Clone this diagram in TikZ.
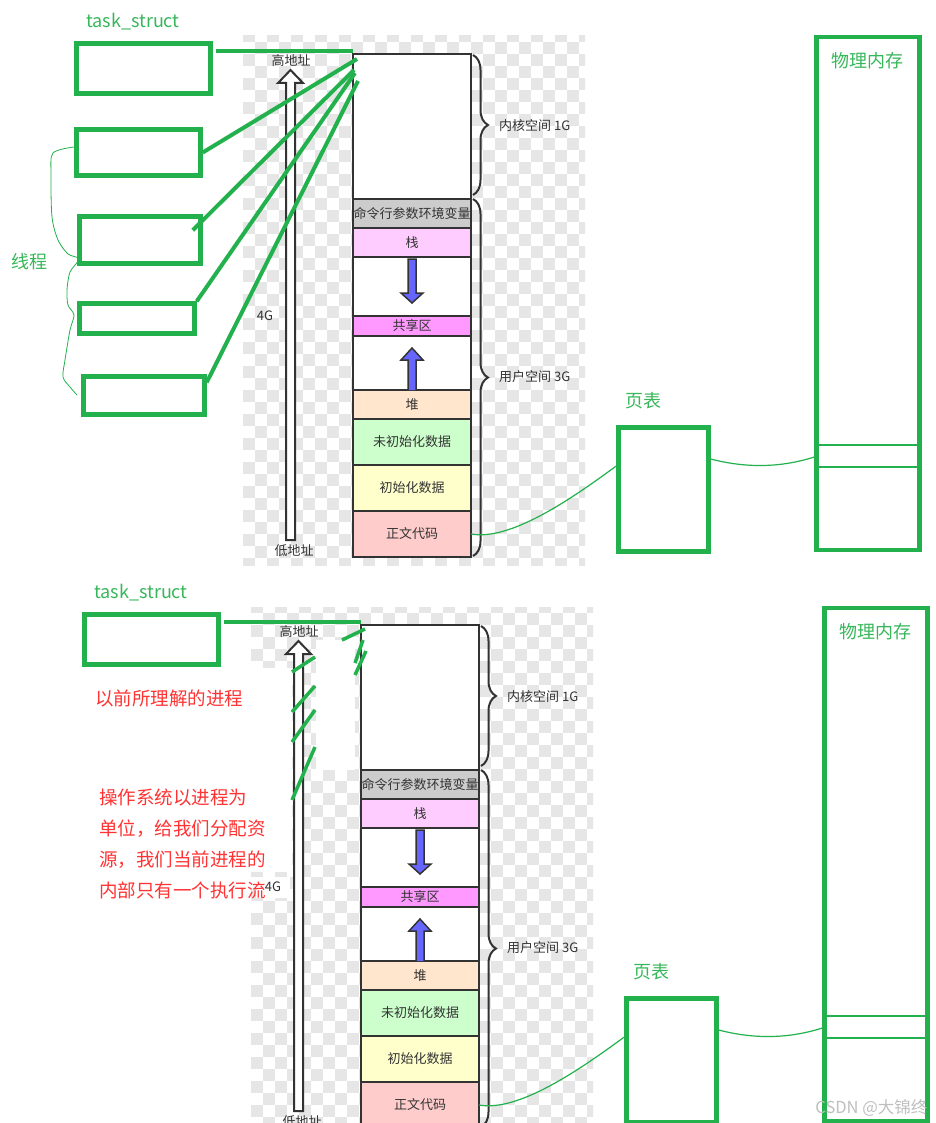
\documentclass[tikz,border=0pt]{standalone}
\usepackage{fontspec}
\usepackage{tikz}
\usetikzlibrary{positioning,calc,backgrounds,decorations.pathreplacing}
\newfontfamily\cjk{Noto Sans CJK SC}
\definecolor{pen}{RGB}{34,177,76}
\definecolor{penlt}{RGB}{55,183,90}
\definecolor{ink}{RGB}{51,51,51}
\definecolor{note}{RGB}{255,51,51}
\definecolor{chk}{RGB}{230,230,230}
\definecolor{argc}{RGB}{204,204,204}
\definecolor{stk}{RGB}{255,204,255}
\definecolor{shmc}{RGB}{255,153,255}
\definecolor{hpc}{RGB}{255,230,204}
\definecolor{bssc}{RGB}{204,255,204}
\definecolor{datc}{RGB}{255,255,204}
\definecolor{txtc}{RGB}{255,204,204}
\definecolor{blu}{RGB}{102,102,255}

\begin{document}
\begin{tikzpicture}[x=1pt,y=-1pt,
  node distance=0pt,
  seg/.style={draw=ink,line width=2pt,minimum width=118pt,inner sep=0pt,outer sep=0pt,
              font=\cjk\fontsize{13}{15}\selectfont,text=ink},
  tbox/.style={draw=pen,line width=4.5pt,inner sep=0pt},
  glab/.style={font=\cjk\fontsize{18}{20}\selectfont,text=penlt},
  lab/.style={font=\cjk\fontsize{13}{15}\selectfont,text=ink,inner sep=0pt},
  remark/.style={font=\cjk\fontsize{18.5}{31}\selectfont,text=note,align=left,inner sep=0pt},
  link/.style={draw=pen,line width=4pt},
  wire/.style={draw=pen,line width=1.2pt},
  brc/.style={draw=ink,line width=2pt,decorate,decoration={brace,amplitude=15pt}},
  flow/.style={fill=blu,draw=ink,line width=1.5pt}
]
\useasboundingbox (0,0) rectangle (935,1123);
\begin{pgfonlayer}{background}
  \fill[white] (0,0) rectangle (935,1123);
\end{pgfonlayer}

% same layout twice: top with threads, bottom the old process
\foreach \p/\dx/\dy in {t/0/0,b/8/571}{
\begin{scope}[shift={(\dx,\dy)},name prefix=\p-]
  \begin{pgfonlayer}{background}
    \begin{scope}
      \clip (243,36) rectangle (585,565);
      \foreach \i in {0,2,...,28} \foreach \j in {0,2,...,44}{
        \fill[chk] (243+12*\i,30+12*\j) rectangle ++(12,12);
        \fill[chk] (255+12*\i,42+12*\j) rectangle ++(12,12);
      }
    \end{scope}
  \end{pgfonlayer}

  \node[seg,fill=white,minimum height=145pt] (kern) at (412,126.5) {};
  \node[seg,fill=argc,minimum height=29pt,below=of kern] (argv) {命令行参数环境变量};
  \node[seg,fill=stk,minimum height=29pt,below=of argv] (stack) {栈};
  \node[seg,fill=white,minimum height=59pt,below=of stack] (gapa) {};
  \node[seg,fill=shmc,minimum height=20pt,below=of gapa] (shm) {共享区};
  \node[seg,fill=white,minimum height=54pt,below=of shm] (gapb) {};
  \node[seg,fill=hpc,minimum height=29pt,below=of gapb] (heap) {堆};
  \node[seg,fill=bssc,minimum height=46pt,below=of heap] (bss) {未初始化数据};
  \node[seg,fill=datc,minimum height=46pt,below=of bss] (data) {初始化数据};
  \node[seg,fill=txtc,minimum height=46pt,below=of data] (code) {正文代码};

  \draw[flow] (408,259)--(416,259)--(416,293)--(423,293)--(412,303)--(401,293)--(408,293)--cycle;
  \draw[flow] (408,390)--(408,360)--(401,360)--(412,348)--(423,360)--(416,360)--(416,390);

  \draw[ink,line width=2pt,fill=white] (286,540)--(286,83)--(278,83)--(290.5,70)--(303,83)--(295,83)--(295,540)--cycle;
  \node[lab] (hi) at (291,61) {高地址};
  \node[lab] (lo) at (294,551) {低地址};
  \node[lab] (four) at (265,316) {4G};

  \draw[brc] (473,55) -- (473,195);
  \draw[brc] (473,199) -- (473,556);
  \node[lab,anchor=west] (kspace) at (499,126) {内核空间 1G};
  \node[lab,anchor=west] (uspace) at (499,377) {用户空间 3G};

  \node[tbox,minimum width=134pt,minimum height=50pt] (ts) at (143.5,68.5) {};
  \node[glab] (tslab) at (133,22) {task\_struct};
  \coordinate (k1) at (353,51);
  \draw[link] ([xshift=3pt]ts.east |- k1) -- (k1);

  \node[tbox,minimum width=90pt,minimum height=124pt] (pt) at (663.5,489.5) {};
  \node[glab] (ptlab) at (643,401) {页表};
  \node[tbox,minimum width=103pt,minimum height=513pt] (pm) at (868,293.5) {};
  \node[glab] (pmlab) at (867,61) {物理内存};
  \draw[wire] (pm.west |- 0,445) -- (pm.east |- 0,445);
  \draw[wire] (pm.west |- 0,467) -- (pm.east |- 0,467);

  \draw[wire] (code.east) .. controls (510,541) and (570,500) .. ($(pt.west)+(0,-23.5)$);
  \draw[wire] ($(pt.east)+(0,-30.5)$) .. controls (745,468) and (780,468) .. ($(pm.west)+(0,163.5)$);
\end{scope}
}

% threads sharing one address space
\node[tbox,minimum width=124pt,minimum height=46pt] (th2) at (138.5,152.5) {};
\node[tbox,minimum width=121pt,minimum height=47pt] (th3) at (140,240) {};
\node[tbox,minimum width=115pt,minimum height=30pt] (th4) at (137,318.5) {};
\node[tbox,minimum width=121pt,minimum height=38pt] (th5) at (144,395.5) {};
\coordinate (k2) at (357,59);
\coordinate (k3) at (354,70);
\coordinate (k4) at (355,73);
\coordinate (k5) at (358,81);
\draw[link] (th2.east) -- (k2);
\draw[link] ($(th3.north east)+(-10,16)$) -- (k3);
\draw[link] (th4.north east) -- (k4);
\draw[link] ($(th5.north east)+(0,8)$) -- (k5);
\draw[draw=pen,line width=0.8pt] plot[smooth] coordinates {(74,147) (53,153) (51,175) (52,217) (58,240) (68,254) (79,259) (70,272) (67,290) (68,305) (74,315) (70,330) (65,360) (63,377) (70,387) (77,395)};
\node[glab] (thr) at (30,262) {线程};

% bottom: erased strokes and notes
\begin{pgfonlayer}{background}
  \fill[white] (316,640) rectangle (355,770);
  \fill[white] (250,668) rectangle (292,872);
  \fill[white] (256,877) rectangle (290,898);
\end{pgfonlayer}
\foreach \a/\b in {{292,672}/{315,657},{292,712}/{315,686},{292,742}/{315,710},{292,800}/{315,747},{342,640}/{365,629},{355,663}/{363,640},{355,675}/{366,651}}
  \draw[link,line width=3.5pt] (\a) -- (\b);
\node[remark] (old) at (169,698) {以前所理解的进程};
\node[remark,anchor=west] (why) at (99,844) {操作系统以进程为\\单位，给我们分配资\\源，我们当前进程的\\内部只有一个执行流};
\node[font=\cjk\fontsize{16.5}{18}\selectfont,text=black!25,anchor=east] (mark) at (931,1108) {CSDN @大锦终};
\end{tikzpicture}
\end{document}
